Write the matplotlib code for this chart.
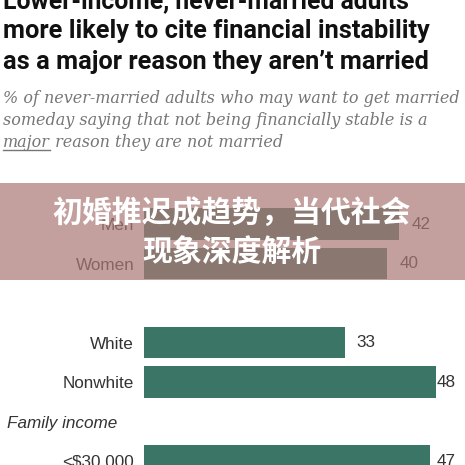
import matplotlib
matplotlib.use("Agg")
import matplotlib.pyplot as plt
from matplotlib.patches import Rectangle
from matplotlib.lines import Line2D

# data
categories = ["Men", "Women", "White", "Nonwhite", "<$30,000"]
values = [42, 40, 33, 48, 47]
rows = [0, 1, 3, 4, 6]
heading = "Family income"
heading_row = 5

title_lines = ["Lower-income, never-married adults",
               "more likely to cite financial instability",
               "as a major reason they aren\u2019t married"]
sub_lines = ["% of never-married adults who may want to get married",
             "someday saying that not being financially stable is a"]
sub_last = ("major", " reason they are not married")
overlay_lines = ["初婚推迟成趋势，当代社会", "现象深度解析"]

W = H = 465
fig = plt.figure(figsize=(4.65, 4.65), dpi=100)
fig.patch.set_facecolor("white")
renderer = fig.canvas.get_renderer()


def py(p):
    # pixel from top -> figure fraction
    return 1 - p / H


def fit(t, width_px):
    # scale the font so the text spans width_px
    for _ in range(3):
        w = t.get_window_extent(renderer).width
        t.set_fontsize(t.get_fontsize() * width_px / w)


# title
title_base = [8, 38, 69]
title_w = [404, 427, 425]
for s, b, w in zip(title_lines, title_base, title_w):
    t = fig.text(3 / W, py(b), s, fontsize=17, fontweight="bold", family="Roboto",
                 color="#111111", va="baseline", ha="left")
    fit(t, w)

# subtitle
sub_base = [103, 125, 147]
sub_col = "#767676"
t0 = fig.text(3 / W, py(sub_base[0]), sub_lines[0], fontsize=11, style="italic",
              family="DejaVu Serif", color=sub_col, va="baseline")
fit(t0, 457)
fs_sub = t0.get_fontsize()
fig.text(3 / W, py(sub_base[1]), sub_lines[1], fontsize=fs_sub, style="italic",
         family="DejaVu Serif", color=sub_col, va="baseline")
tm = fig.text(3 / W, py(sub_base[2]), sub_last[0], fontsize=fs_sub, style="italic",
              family="DejaVu Serif", color=sub_col, va="baseline")
bb = tm.get_window_extent(renderer)
fig.text(bb.x1 / W, py(sub_base[2]), sub_last[1], fontsize=fs_sub, style="italic",
         family="DejaVu Serif", color=sub_col, va="baseline")
fig.add_artist(Line2D([bb.x0 / W, bb.x1 / W], [py(sub_base[2] + 3)] * 2,
                      transform=fig.transFigure, color=sub_col, lw=1))

# bars
px_per_unit = 6.08
ax = fig.add_axes([144 / W, 0, (W - 144) / W, 1])
ax.set_xlim(0, (W - 144) / px_per_unit)
ax.set_ylim((H - 224) / 39.5, -224 / 39.5)
ax.barh(rows, values, height=0.79, color="#3a7565")
ax.set_yticks(rows, categories)
ax.tick_params(axis="y", length=0, pad=7, labelsize=12.3, labelcolor="#333333")
ax.set_xticks([])
for sp in ax.spines.values():
    sp.set_visible(False)
ax.patch.set_alpha(0)
for lbl in ax.get_yticklabels():
    lbl.set_family("Liberation Sans")
for r, v in zip(rows, values):
    ax.text(min(v + 2.0, 48.2), r, str(v), va="center", ha="left", fontsize=12.3,
            family="Liberation Sans", color="#333333")
fig.text(7 / W, py(423), heading, fontsize=12.3, style="italic",
         family="Liberation Sans", color="#333333", va="center")

# semi-transparent banner
fig.add_artist(Rectangle((0, py(280)), 1, 97 / H, transform=fig.transFigure,
                         facecolor=(171 / 255, 120 / 255, 117 / 255), alpha=0.706,
                         edgecolor="none", zorder=10))
for s, yc in zip(overlay_lines, [213, 252]):
    fig.text(232 / W, py(yc), s, fontsize=21.5, fontweight="heavy", color="white",
             family=["Noto Sans CJK SC", "DejaVu Sans"], ha="center", va="center",
             zorder=11)

fig.savefig("out.png", dpi=100)
